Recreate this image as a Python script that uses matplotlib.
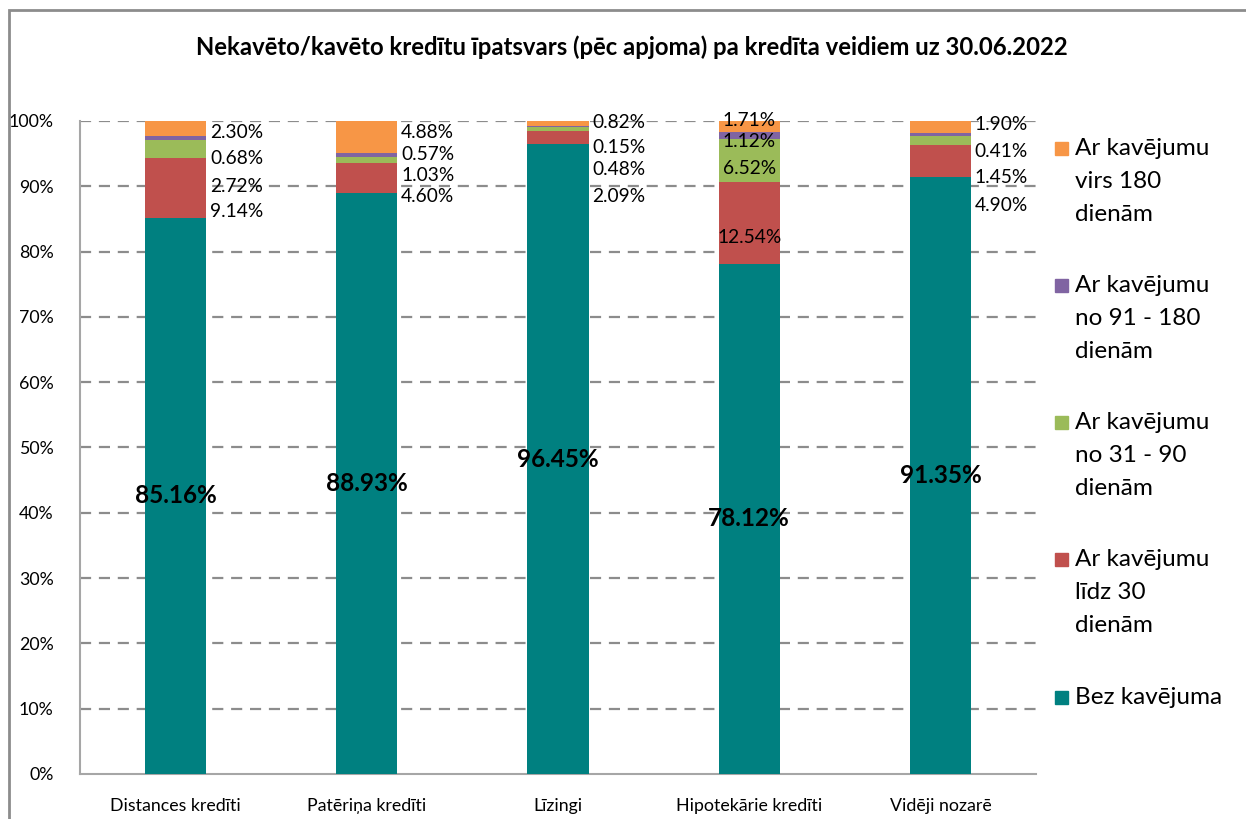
import matplotlib
matplotlib.use("Agg")
import matplotlib.pyplot as plt
from matplotlib.patches import Rectangle
import numpy as np

plt.rcParams['font.family'] = ['Lato', 'DejaVu Sans']

categories = ['Distances kredīti', 'Patēriņa kredīti', 'Līzingi',
              'Hipotekārie kredīti', 'Vidēji nozarē']

# shares in %, bottom to top of each bar
bez = [85.16, 88.93, 96.45, 78.12, 91.35]
lidz30 = [9.14, 4.60, 2.09, 12.54, 4.90]
no31_90 = [2.72, 1.03, 0.48, 6.52, 1.45]
no91_180 = [0.68, 0.57, 0.15, 1.12, 0.41]
virs180 = [2.30, 4.88, 0.82, 1.71, 1.90]

series_names = ['Bez kavējuma', 'Ar kavējumu\nlīdz 30\ndienām',
                'Ar kavējumu\nno 31 - 90\ndienām',
                'Ar kavējumu\nno 91 - 180\ndienām',
                'Ar kavējumu\nvirs 180\ndienām']
colors = ['#008080', '#C0504D', '#9BBB59', '#8064A2', '#F79646']

# label heights (in %) for the small labels: virs180, 91-180, 31-90, lidz30
label_y = [
    [98.2, 94.2, 90.0, 86.1],
    [98.2, 94.9, 91.7, 88.4],
    [99.7, 96.0, 92.5, 88.4],
    [100.0, 96.8, 92.8, 82.1],
    [99.5, 95.3, 91.3, 87.0],
]
inside = [False, False, False, True, False]

W, H = 1246, 819
fig = plt.figure(figsize=(W / 100, H / 100), dpi=100)
ax = fig.add_axes([80 / W, (H - 774) / H, (1036 - 80) / W, (774 - 121) / H])

x = np.arange(len(categories))
series = [bez, lidz30, no31_90, no91_180, virs180]
bottom = np.zeros(len(categories))
for vals, c in zip(series, colors):
    ax.bar(x, vals, width=0.32, bottom=bottom, color=c, zorder=3)
    bottom = bottom + np.array(vals)

ax.set_xlim(-0.5, 4.5)
ax.set_ylim(0, 100)
ax.set_yticks(np.arange(0, 101, 10))
ax.set_yticklabels([f'{v}%' for v in range(0, 101, 10)], fontsize=12.8)
ax.set_xticks(x)
ax.set_xticklabels(categories, fontsize=12.8)
ax.tick_params(axis='y', length=0, pad=19)
ax.tick_params(axis='x', length=0, pad=17)
for v in range(10, 101, 10):
    ax.axhline(v, color='#8c8c8c', lw=1.6, ls=(0, (5, 3.5)), zorder=1)
for s in ['top', 'right']:
    ax.spines[s].set_visible(False)
ax.spines['left'].set_color('#a6a6a6')
ax.spines['bottom'].set_color('#a6a6a6')
ax.spines['left'].set_linewidth(1.5)
ax.spines['bottom'].set_linewidth(1.5)

# value labels
for i in range(len(categories)):
    ax.text(x[i], bez[i] / 2, f'{bez[i]:.2f}%', ha='center', va='center',
            fontsize=17.5, fontweight='bold', zorder=5)
    small = [virs180[i], no91_180[i], no31_90[i], lidz30[i]]
    for v, yy in zip(small, label_y[i]):
        if inside[i]:
            ax.text(x[i], yy, f'{v:.2f}%', ha='center', va='center',
                    fontsize=13.8, zorder=5)
        else:
            ax.text(x[i] + 0.18, yy, f'{v:.2f}%', ha='left', va='center',
                    fontsize=13.8, zorder=5)

fig.text(632 / W, (H - 47) / H,
         'Nekavēto/kavēto kredītu īpatsvars (pēc apjoma) pa kredīta veidiem uz 30.06.2022',
         ha='center', va='center', fontsize=17.2, fontweight='bold')

# legend (top to bottom: reverse of stacking)
leg_y = [148, 285, 422, 559, 697]
for name, c, yy in zip(series_names[::-1], colors[::-1], leg_y):
    fig.patches.append(Rectangle((1055 / W, (H - yy - 7) / H), 13 / W, 13 / H,
                                 transform=fig.transFigure, color=c))
    fig.text(1075 / W, (H - yy + 10) / H, name, ha='left', va='top',
             fontsize=17.5, linespacing=1.7)

# outer frame
fig.patches.append(Rectangle((9 / W, -0.1), 1.2, (H - 10) / H + 0.1,
                             transform=fig.transFigure, fill=False,
                             edgecolor='#8c8c8c', lw=2))

fig.savefig('out.png', dpi=100)
